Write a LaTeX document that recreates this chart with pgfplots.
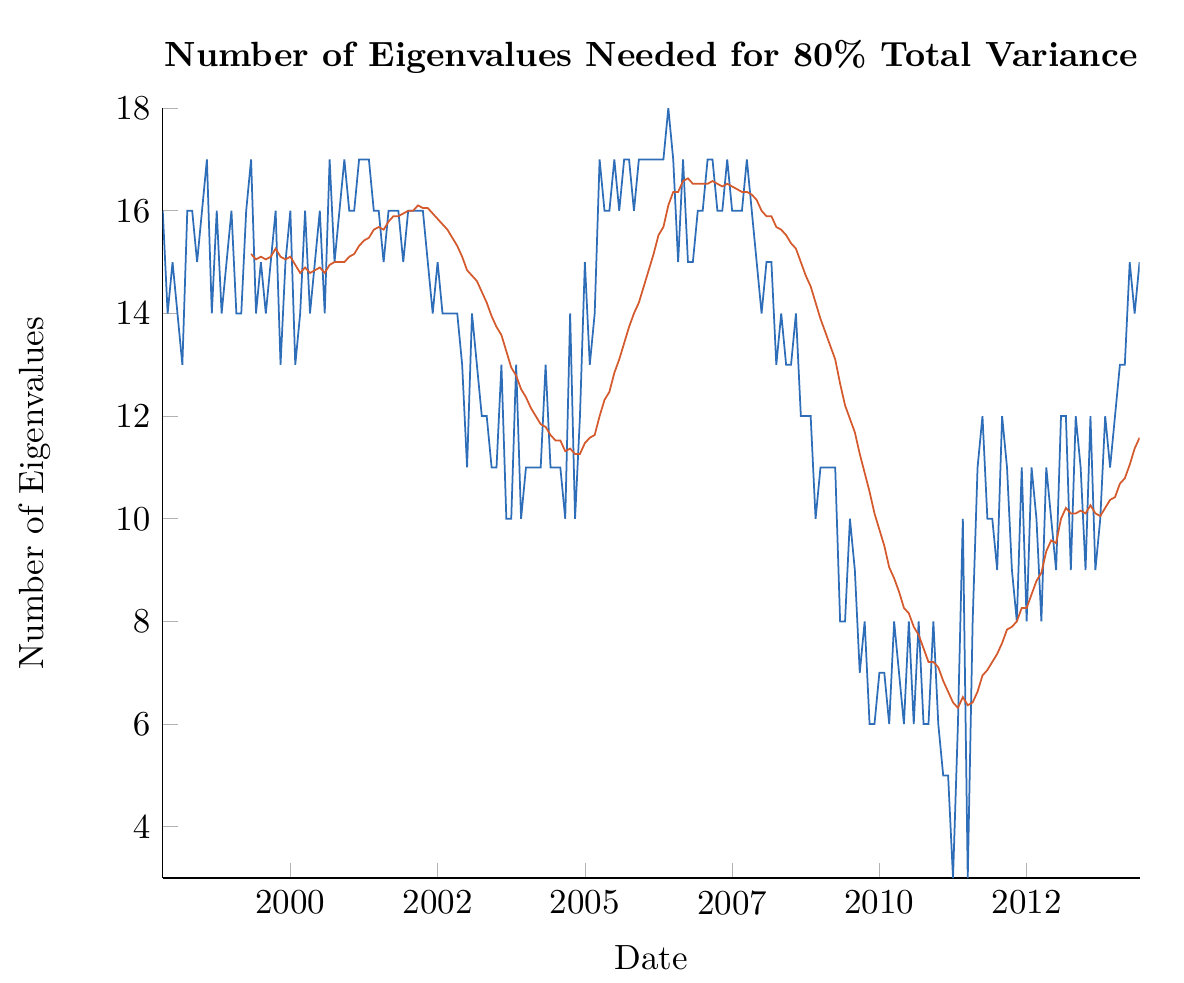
\documentclass[border=0pt]{standalone}
\usepackage{pgfplots}
\pgfplotsset{compat=1.18}
\definecolor{mycolor1}{RGB}{46,109,184}
\definecolor{mycolor2}{RGB}{212,90,45}
\begin{document}
\begin{tikzpicture}
\begin{axis}[
  scale only axis,
  width=279.1pt, height=220pt,
  xmin=0, xmax=199, ymin=3, ymax=18,
  axis lines*=left,
  xtick={26,56,86,116,146,176},
  xticklabels={2000,2002,2005,2007,2010,2012},
  ytick={4,6,...,18},
  tick align=inside,
  major tick style={gray!60},
  xlabel={Date},
  ylabel={Number of Eigenvalues},
  title={\textbf{Number of Eigenvalues Needed for 80\% Total Variance}},
  title style={at={(axis description cs:0.5,1)}, anchor=center, yshift=8.6pt},
  xlabel style={at={(axis description cs:0.5,0)}, anchor=center, yshift=-22.9pt},
  ylabel style={at={(axis description cs:-0.1308,0.5)}, anchor=center},
]
% monthly count of eigenvalues (month index from Nov 1997)
\addplot[color=mycolor1, line width=0.5pt] coordinates {
(0,16)(1,14)(2,15)(3,14)(4,13)(5,16)(6,16)(7,15)(8,16)(9,17)
(10,14)(11,16)(12,14)(13,15)(14,16)(15,14)(16,14)(17,16)(18,17)(19,14)
(20,15)(21,14)(22,15)(23,16)(24,13)(25,15)(26,16)(27,13)(28,14)(29,16)
(30,14)(31,15)(32,16)(33,14)(34,17)(35,15)(36,16)(37,17)(38,16)(39,16)
(40,17)(41,17)(42,17)(43,16)(44,16)(45,15)(46,16)(47,16)(48,16)(49,15)
(50,16)(51,16)(52,16)(53,16)(54,15)(55,14)(56,15)(57,14)(58,14)(59,14)
(60,14)(61,13)(62,11)(63,14)(64,13)(65,12)(66,12)(67,11)(68,11)(69,13)
(70,10)(71,10)(72,13)(73,10)(74,11)(75,11)(76,11)(77,11)(78,13)(79,11)
(80,11)(81,11)(82,10)(83,14)(84,10)(85,12)(86,15)(87,13)(88,14)(89,17)
(90,16)(91,16)(92,17)(93,16)(94,17)(95,17)(96,16)(97,17)(98,17)(99,17)
(100,17)(101,17)(102,17)(103,18)(104,17)(105,15)(106,17)(107,15)(108,15)(109,16)
(110,16)(111,17)(112,17)(113,16)(114,16)(115,17)(116,16)(117,16)(118,16)(119,17)
(120,16)(121,15)(122,14)(123,15)(124,15)(125,13)(126,14)(127,13)(128,13)(129,14)
(130,12)(131,12)(132,12)(133,10)(134,11)(135,11)(136,11)(137,11)(138,8)(139,8)
(140,10)(141,9)(142,7)(143,8)(144,6)(145,6)(146,7)(147,7)(148,6)(149,8)
(150,7)(151,6)(152,8)(153,6)(154,8)(155,6)(156,6)(157,8)(158,6)(159,5)
(160,5)(161,3)(162,6)(163,10)(164,3)(165,8)(166,11)(167,12)(168,10)(169,10)
(170,9)(171,12)(172,11)(173,9)(174,8)(175,11)(176,8)(177,11)(178,10)(179,8)
(180,11)(181,10)(182,9)(183,12)(184,12)(185,9)(186,12)(187,11)(188,9)(189,12)
(190,9)(191,10)(192,12)(193,11)(194,12)(195,13)(196,13)(197,15)(198,14)(199,15)
};
% 19-month moving average
\addplot[color=mycolor2, line width=0.5pt] coordinates {
(18,15.158)(19,15.053)(20,15.105)(21,15.053)(22,15.105)(23,15.263)(24,15.105)(25,15.053)(26,15.105)(27,14.947)
(28,14.789)(29,14.895)(30,14.789)(31,14.842)(32,14.895)(33,14.789)(34,14.947)(35,15.0)(36,15.0)(37,15.0)
(38,15.105)(39,15.158)(40,15.316)(41,15.421)(42,15.474)(43,15.632)(44,15.684)(45,15.632)(46,15.789)(47,15.895)
(48,15.895)(49,15.947)(50,16.0)(51,16.0)(52,16.105)(53,16.053)(54,16.053)(55,15.947)(56,15.842)(57,15.737)
(58,15.632)(59,15.474)(60,15.316)(61,15.105)(62,14.842)(63,14.737)(64,14.632)(65,14.421)(66,14.211)(67,13.947)
(68,13.737)(69,13.579)(70,13.263)(71,12.947)(72,12.789)(73,12.526)(74,12.368)(75,12.158)(76,12.0)(77,11.842)
(78,11.789)(79,11.632)(80,11.526)(81,11.526)(82,11.316)(83,11.368)(84,11.263)(85,11.263)(86,11.474)(87,11.579)
(88,11.632)(89,12.0)(90,12.316)(91,12.474)(92,12.842)(93,13.105)(94,13.421)(95,13.737)(96,14.0)(97,14.211)
(98,14.526)(99,14.842)(100,15.158)(101,15.526)(102,15.684)(103,16.105)(104,16.368)(105,16.368)(106,16.579)(107,16.632)
(108,16.526)(109,16.526)(110,16.526)(111,16.526)(112,16.579)(113,16.526)(114,16.474)(115,16.526)(116,16.474)(117,16.421)
(118,16.368)(119,16.368)(120,16.316)(121,16.211)(122,16.0)(123,15.895)(124,15.895)(125,15.684)(126,15.632)(127,15.526)
(128,15.368)(129,15.263)(130,15.0)(131,14.737)(132,14.526)(133,14.211)(134,13.895)(135,13.632)(136,13.368)(137,13.105)
(138,12.632)(139,12.211)(140,11.947)(141,11.684)(142,11.263)(143,10.895)(144,10.526)(145,10.105)(146,9.789)(147,9.474)
(148,9.053)(149,8.842)(150,8.579)(151,8.263)(152,8.158)(153,7.895)(154,7.737)(155,7.474)(156,7.211)(157,7.211)
(158,7.105)(159,6.842)(160,6.632)(161,6.421)(162,6.316)(163,6.526)(164,6.368)(165,6.421)(166,6.632)(167,6.947)
(168,7.053)(169,7.211)(170,7.368)(171,7.579)(172,7.842)(173,7.895)(174,8.0)(175,8.263)(176,8.263)(177,8.526)
(178,8.789)(179,8.947)(180,9.368)(181,9.579)(182,9.526)(183,10.0)(184,10.211)(185,10.105)(186,10.105)(187,10.158)
(188,10.105)(189,10.263)(190,10.105)(191,10.053)(192,10.211)(193,10.368)(194,10.421)(195,10.684)(196,10.789)(197,11.053)
(198,11.368)(199,11.579)
};
\end{axis}
% white margin as in the reference
\path ([xshift=-46.5pt,yshift=-28pt]current axis.south west) rectangle ([xshift=12.7pt,yshift=30.9pt]current axis.north east);
\end{tikzpicture}
\end{document}
